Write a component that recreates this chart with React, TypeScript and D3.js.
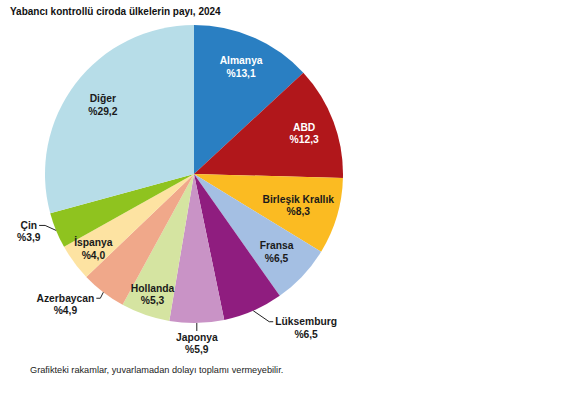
import React from "react";
import * as d3 from "d3";

const countries = ["Almanya", "ABD", "Birleşik Krallık", "Fransa", "Lüksemburg", "Japonya", "Hollanda", "Azerbaycan", "İspanya", "Çin", "Diğer"];
const shares = [13.1, 12.3, 8.3, 6.5, 6.5, 5.9, 5.3, 4.9, 4.0, 3.9, 29.2];
const colors = ["#2a7fc2", "#b1171b", "#fbbb22", "#a4bfe3", "#8f1d7f", "#c993c6", "#d5e4a1", "#f0a88a", "#fde3a2", "#8fc31f", "#b7dde8"];
const labelColors = ["#ffffff", "#ffffff", "#1a1a1a", "#1a1a1a", "#1a1a1a", "#1a1a1a", "#1a1a1a", "#1a1a1a", "#1a1a1a", "#1a1a1a", "#1a1a1a"];
const title = "Yabancı kontrollü ciroda ülkelerin payı, 2024";
const footnote = "Grafikteki rakamlar, yuvarlamadan dolayı toplamı vermeyebilir.";

const W = 574, H = 396;
const cx = 194, cy = 174, R = 149;
const FONT = "Arial, 'Liberation Sans', sans-serif";

// label layout (radius factor for inner labels; elbow offsets for leader lines)
const layout: Record<string, any> = {
  "Almanya": { mode: "in", r: 0.79 },
  "ABD": { mode: "in", r: 0.79 },
  "Birleşik Krallık": { mode: "in", r: 0.73 },
  "Fransa": { mode: "in", r: 0.76 },
  "Lüksemburg": { mode: "out", dx: 16, dy: 11, arm: 4 },
  "Japonya": { mode: "below", len: 8 },
  "Hollanda": { mode: "in", r: 0.85 },
  "Azerbaycan": { mode: "out", dx: -3, dy: 6, arm: 4 },
  "İspanya": { mode: "in", r: 0.84 },
  "Çin": { mode: "out", dx: -11, dy: -5, arm: 6 },
  "Diğer": { mode: "in", r: 0.77 },
};

function measure(text: string, size: number, weight: string) {
  if (typeof document === "undefined") return text.length * size * 0.55;
  const c = document.createElement("canvas");
  const ctx = c.getContext("2d");
  if (!ctx) return text.length * size * 0.55;
  ctx.font = `${weight} ${size}px Arial, 'Liberation Sans', sans-serif`;
  return ctx.measureText(text).width;
}

const fmt = (v: number) => "%" + v.toFixed(1).replace(".", ",");

export default function App() {
  const data = countries.map((c, i) => ({ name: c, value: shares[i], i }));
  const pie = d3.pie<any>().sort(null).value((d) => d.value);
  const arcs = pie(data);
  const arcGen = d3.arc<any>().innerRadius(0).outerRadius(R);
  const fs = 10.3;
  const lh = 12.5;

  return (
    <svg width={W} height={H} style={{ position: "absolute", left: 0, top: 0, background: "#fff" }} fontFamily={FONT}>
      <text x={10} y={15} fontSize={10} fontWeight="bold" fill="#111">{title}</text>
      <g transform={`translate(${cx},${cy})`}>
        {arcs.map((a, k) => (
          <path key={k} d={arcGen(a) || ""} fill={colors[a.data.i]} />
        ))}
        {arcs.map((a, k) => {
          const i = a.data.i;
          const mid = (a.startAngle + a.endAngle) / 2;
          const sx = Math.sin(mid), sy = -Math.cos(mid);
          const L = layout[countries[i]];
          const l1 = countries[i], l2 = fmt(shares[i]);
          if (L.mode === "in") {
            const r = R * L.r;
            const x = sx * r, y = sy * r;
            return (
              <g key={"l" + k} fill={labelColors[i]} fontSize={fs} fontWeight="bold" textAnchor="middle">
                <text x={x} y={y - 2}>{l1}</text>
                <text x={x} y={y - 2 + lh}>{l2}</text>
              </g>
            );
          }
          const x0 = sx * R, y0 = sy * R;
          if (L.mode === "below") {
            const y1 = y0 + L.len;
            return (
              <g key={"l" + k}>
                <line x1={x0} y1={y0} x2={x0} y2={y1} stroke="#222" strokeWidth={1} />
                <g fill={labelColors[i]} fontSize={fs} fontWeight="bold" textAnchor="middle">
                  <text x={x0} y={y1 + 10}>{l1}</text>
                  <text x={x0} y={y1 + 10 + lh}>{l2}</text>
                </g>
              </g>
            );
          }
          const ex = x0 + L.dx, ey = y0 + L.dy;
          const dir = sx >= 0 ? 1 : -1;
          const hx = ex + dir * L.arm;
          const w = measure(l1, fs, "bold");
          const tx = hx + dir * 2;
          const center = tx + dir * w / 2;
          return (
            <g key={"l" + k}>
              <polyline points={`${x0},${y0} ${ex},${ey} ${hx},${ey}`} fill="none" stroke="#222" strokeWidth={1} />
              <g fill={labelColors[i]} fontSize={fs} fontWeight="bold">
                <text x={tx} y={ey + 3.5} textAnchor={dir > 0 ? "start" : "end"}>{l1}</text>
                <text x={center} y={ey + 3.5 + lh} textAnchor="middle">{l2}</text>
              </g>
            </g>
          );
        })}
      </g>
      <text x={30} y={373} fontSize={9.2} fill="#222">{footnote}</text>
    </svg>
  );
}
